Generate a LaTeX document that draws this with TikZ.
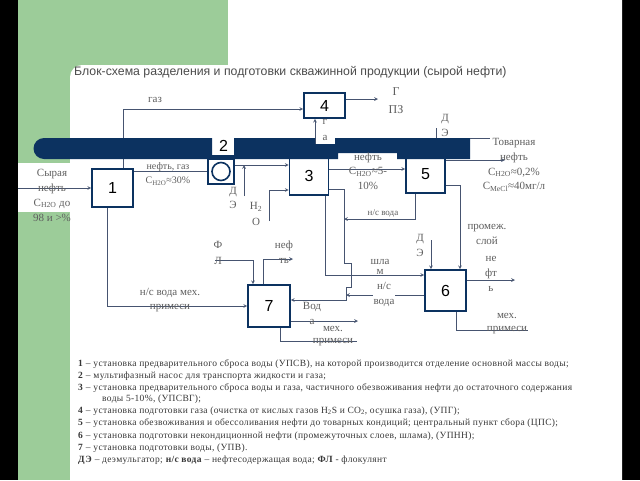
\documentclass[tikz,border=0pt]{standalone}
\usepackage{fontspec}
\setmainfont{Liberation Serif}
\newfontfamily\sansfont{Liberation Sans}
\newfontfamily\keyfont[LetterSpace=3.5]{Liberation Serif}
\definecolor{bandblue}{RGB}{12,50,96}
\definecolor{leaf}{RGB}{156,204,153}
\definecolor{wire}{RGB}{70,84,112}
\definecolor{ink}{RGB}{95,95,95}
\definecolor{keyink}{RGB}{55,55,55}
\begin{document}
\begin{tikzpicture}[
      x=1pt, y=-1pt,
      unit/.style={draw=bandblue,line width=1.6pt,fill=white,inner sep=0pt,font=\sansfont\fontsize{16}{16}\selectfont},
      pump/.style={circle,draw=bandblue,line width=1.6pt,minimum size=18pt,inner sep=0pt},
      link/.style={draw=wire,line width=0.7pt},
      flow/.style={link,->,>=stealth},
      lbl/.style={text=ink,inner sep=0pt,align=center,font=\fontsize{11}{15}\selectfont},
      small/.style={font=\fontsize{10}{14}\selectfont},
      keyline/.style={anchor=west,inner sep=0pt,text=keyink,font=\keyfont\fontsize{9.5}{11}\selectfont}
    ]
    \useasboundingbox (0,0) rectangle (640,480);
    % Draw the slide background.
    \fill[black] (0,0) rectangle (640,480);
    \fill[leaf] (18,0) rectangle (228,480);
    \fill[white] (228,0) -- (622,0) -- (622,480) -- (70,480) -- (70,77)
      arc[start angle=180,end angle=90,radius=12pt] -- (228,65) -- cycle;
    \fill[white] (18,163) rectangle (92,212);
    \node[anchor=west,inner sep=0pt,text=ink!80!black,font=\sansfont\fontsize{12.3}{14}\selectfont] (title) at (74,72)
      {Блок-схема разделения и подготовки скважинной продукции (сырой нефти)};
    % Draw the end points of the streams.
    \coordinate (crude) at (18,188);
    \coordinate (de1) at (244,196);
    \coordinate (h2o) at (269,221);
    \coordinate (gpz) at (378,99);
    \coordinate (de2) at (436,128);
    \coordinate (sale) at (505,160);
    \coordinate (de3) at (431,240);
    \coordinate (oil6) at (515,280);
    \coordinate (mech6) at (528,330);
    \coordinate (water7) at (358,321);
    \coordinate (mech7) at (357,341);
    \coordinate (fl) at (215,260);
    \coordinate (oil7) at (293,259);
    \coordinate (wj) at (344,219);
    \coordinate (wj2) at (346,295);
    % Draw the units.
    \node[unit,minimum width=41pt,minimum height=38pt] (u1) at (112.5,188) {1};
    \node[unit,minimum width=26pt,minimum height=25pt] (u2) at (221,171.5) {};
    \node[pump] (p2) at (u2) {};
    \node[unit,minimum width=39pt,minimum height=39pt] (u3) at (309,175.5) {3};
    \node[unit,minimum width=41pt,minimum height=25pt] (u4) at (324.5,105.5) {4};
    \node[unit,minimum width=39pt,minimum height=38pt] (u5) at (425.5,174) {5};
    \node[unit,minimum width=41pt,minimum height=41pt] (u6) at (445.5,290.5) {6};
    \node[unit,minimum width=42pt,minimum height=42pt] (u7) at (269,306) {7};
    % Draw the streams.
    \coordinate (j2) at ([yshift=6.5pt]u2.east);
    \coordinate (g1) at ([xshift=10.5pt]u1.north);
    \coordinate (g3) at ([xshift=6pt]u3.north);
    \coordinate (o3) at ([yshift=6.5pt]u3.east);
    \coordinate (w3) at ([yshift=-13.5pt]u3.east);
    \coordinate (w5) at ([xshift=-10.5pt]u5.south);
    \coordinate (s3) at ([xshift=16pt]u3.south);
    \coordinate (m5) at ([yshift=-11pt]u5.east);
    \coordinate (m6) at ([xshift=14.5pt]u6.north);
    \draw[flow] (crude) -- (u1.west);
    \draw[link] (u1.east |- u2.west) -- (u2.west);
    \draw[flow] (j2) -- (j2 -| u3.west);
    \draw[flow] (de1) -- (de1 |- j2);
    \draw[flow] (h2o) |- ([yshift=-14.5pt]u3.west);
    \draw[flow] (g1) |- ([yshift=-3.5pt]u4.west);
    \draw[flow] (g3) -- (g3 |- u4.south);
    \draw[flow] ([yshift=6.5pt]u4.east) -- (gpz);
    \draw[flow] (o3) -- (o3 -| u5.west);
    \draw[flow] ([yshift=14pt]u5.east) -- (sale);
    \draw[link] (de2) -- (de2 |- u5.north);
    \draw[flow] (w3) -- ++(15,0) -- ++(0,74) -- ++(7,0) -- ++(0,24) -- ++(-5,0) |- ([yshift=6pt]u7.east);
    \draw[flow] (w5) |- (wj);
    \draw[flow] ([yshift=-4.5pt]u6.west) -- (wj2);
    \draw[flow] (s3) |- ([yshift=15.5pt]u6.west);
    \draw[flow] (de3) -- (de3 |- u6.north);
    \draw[flow] (m5) -| (m6);
    \draw[flow] ([yshift=10.5pt]u6.east) -- (oil6);
    \draw[link] ([xshift=10.5pt]u6.south) |- (mech6);
    \draw[flow] ([yshift=-15pt]u7.east) -- (water7);
    \draw[link] ([xshift=11pt]u7.south) |- (mech7);
    \draw[flow] (fl) -| ([xshift=-16pt]u7.north);
    \draw[flow] ([xshift=-6pt]u7.north) |- (oil7);
    \draw[flow] ([xshift=-5.5pt]u1.south) |- (u7.west);
    % Draw the collector band.
    \fill[bandblue] (44,138) -- (212,138) -- (212,155) -- (234,155) -- (234,138) -- (315,138)
      -- (315,144) -- (335,144) -- (335,138) -- (470,138) -- (470,159) -- (397,159)
      -- (397,153) -- (338,153) -- (338,159) -- (44,159)
      arc[start angle=270,end angle=90,radius=10.5pt] -- cycle;
    \draw[link,line width=0.4pt] (470,138.5) -- (490,138.5);
    \node[inner sep=0pt,font=\sansfont\fontsize{16}{16}\selectfont] (n2) at (223.5,146) {2};
    % Draw the stream labels.
    \node[lbl] (lcrude) at (52,195) {Сырая\\нефть\\C\textsubscript{H2O} до\\98 и >\%};
    \node[lbl] (lgas) at (155,100) {газ};
    \node[lbl,small] (l12) at (168,174) {нефть, газ\\C\textsubscript{H2O}≈30\%};
    \node[lbl,font=\fontsize{11}{14}\selectfont] (lde1) at (233,198) {Д\\Э};
    \node[lbl,font=\fontsize{11}{16}\selectfont] (lh2o) at (256,214) {H\textsubscript{2}\\O};
    \node[lbl,font=\fontsize{11}{16}\selectfont] (lga) at (325,130) {г\\а};
    \node[lbl,font=\fontsize{12}{18}\selectfont] (lgpz) at (396,101) {Г\\ПЗ};
    \node[lbl,font=\fontsize{11}{14.5}\selectfont] (l35) at (368,171) {нефть\\C\textsubscript{H2O}≈5-\\10\%};
    \node[lbl,font=\fontsize{11}{14.7}\selectfont] (lsale) at (514,165) {Товарная\\нефть\\C\textsubscript{H2O}≈0,2\%\\C\textsubscript{MeCl}≈40мг/л};
    \node[lbl] (lde2) at (445,125) {Д\\Э};
    \node[lbl,font=\fontsize{9}{11}\selectfont] (lw5) at (383,213) {н/с вода};
    \node[lbl,font=\fontsize{11}{10}\selectfont] (lsludge) at (380,267) {шла\\м};
    \node[lbl,fill=white,inner sep=1pt] (lw6) at (384,294) {н/с\\вода};
    \node[lbl] (lde3) at (420,245) {Д\\Э};
    \node[lbl] (llayer) at (487,234) {промеж.\\слой};
    \node[lbl] (loil6) at (491,274) {не\\фт\\ь};
    \node[lbl,font=\fontsize{11}{13}\selectfont] (lmech6) at (507,324) {мех.\\примеси};
    \node[lbl] (lw7) at (312,313) {Вод\\а};
    \node[lbl,font=\fontsize{11}{12}\selectfont] (lmech7) at (333,336) {мех.\\примеси};
    \node[lbl,font=\fontsize{11}{16}\selectfont] (lfl) at (218,253) {Ф\\Л};
    \node[lbl] (loil7) at (284,252) {неф\\ть};
    \node[lbl,font=\fontsize{11}{14}\selectfont] (l17) at (170,300) {н/с вода мех.\\примеси};
    % Draw the key.
    \node[keyline] (k1) at (78,364) {\textbf{1} – установка предварительного сброса воды (УПСВ), на которой производится отделение основной массы воды;};
    \node[keyline] (k2) at (78,376) {\textbf{2} – мультифазный насос для транспорта жидкости и газа;};
    \node[keyline] (k3) at (78,388) {\textbf{3} – установка предварительного сброса воды и газа, частичного обезвоживания нефти до остаточного содержания};
    \node[keyline] (k3b) at (102,399) {воды 5-10\%, (УПСВГ);};
    \node[keyline] (k4) at (78,411) {\textbf{4} – установка подготовки газа (очистка от кислых газов H\textsubscript{2}S и CO\textsubscript{2}, осушка газа), (УПГ);};
    \node[keyline] (k5) at (78,423) {\textbf{5} – установка обезвоживания и обессоливания нефти до товарных кондиций; центральный пункт сбора (ЦПС);};
    \node[keyline] (k6) at (78,436) {\textbf{6} – установка подготовки некондиционной нефти (промежуточных слоев, шлама), (УПНН);};
    \node[keyline] (k7) at (78,448) {\textbf{7} – установка подготовки воды, (УПВ).};
    \node[keyline] (k8) at (78,460) {\textbf{ДЭ} – деэмульгатор; \textbf{н/с вода} – нефтесодержащая вода; \textbf{ФЛ} - флокулянт};
    \end{tikzpicture}
\end{document}
